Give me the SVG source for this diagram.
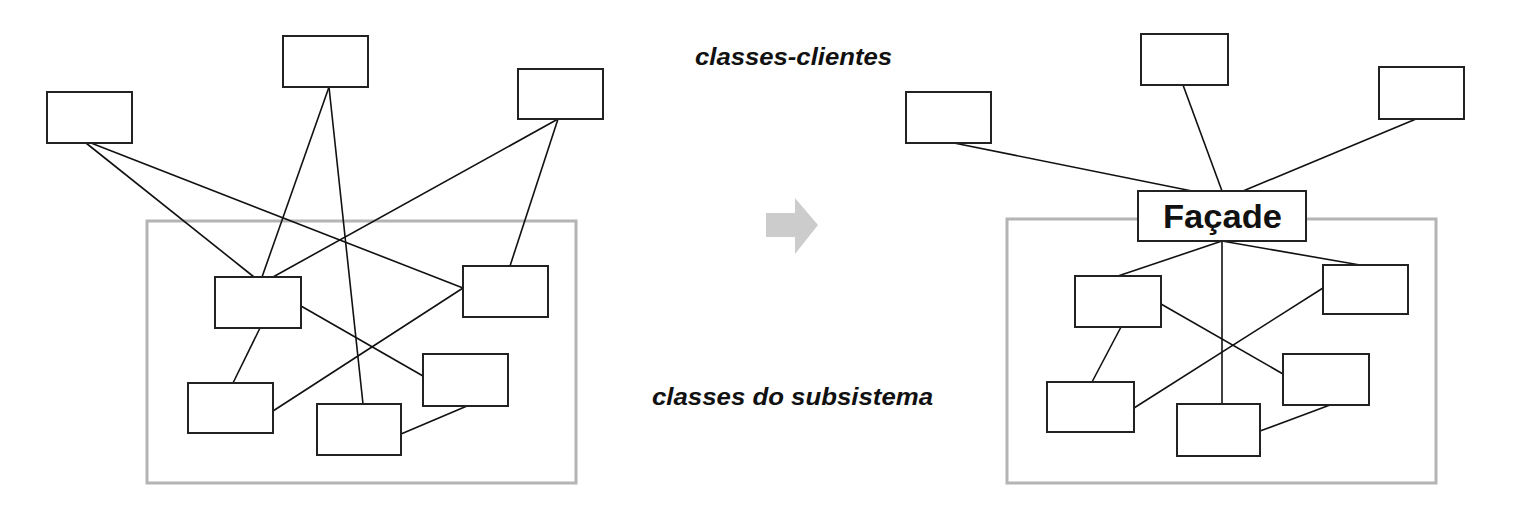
<svg xmlns="http://www.w3.org/2000/svg" width="1538" height="522" viewBox="0 0 1538 522">
<style>
.box{fill:#fff;stroke:#222;stroke-width:2}
.cont{fill:none;stroke:#b4b4b4;stroke-width:3}
.ln{stroke:#111;stroke-width:1.6;fill:none}
.lbl{font-family:"Liberation Sans",Arial,sans-serif;font-weight:bold;font-style:italic;font-size:24px;fill:#111}
.fac{font-family:"Liberation Sans",Arial,sans-serif;font-weight:bold;font-size:33px;fill:#111}
</style>
<rect width="1538" height="522" fill="#fff"/>
<g id="left-container"><rect class="cont" x="147" y="221" width="429" height="262"/></g>
<g id="right-container"><rect class="cont" x="1007" y="219" width="429" height="264"/></g>
<g id="connectors">
<line class="ln" x1="86" y1="143" x2="254" y2="277"/>
<line class="ln" x1="91" y1="143" x2="463" y2="288"/>
<line class="ln" x1="329" y1="87" x2="262" y2="277"/>
<line class="ln" x1="329" y1="87" x2="363" y2="404"/>
<line class="ln" x1="558" y1="119" x2="273" y2="277"/>
<line class="ln" x1="558" y1="119" x2="510" y2="266"/>
<line class="ln" x1="260" y1="328" x2="233" y2="383"/>
<line class="ln" x1="273" y1="411" x2="463" y2="288"/>
<line class="ln" x1="301" y1="306" x2="423" y2="376"/>
<line class="ln" x1="401" y1="434" x2="467" y2="406"/>
<line class="ln" x1="954" y1="143" x2="1192" y2="191"/>
<line class="ln" x1="1183" y1="85" x2="1222" y2="191"/>
<line class="ln" x1="1416" y1="119" x2="1243" y2="191"/>
<line class="ln" x1="1222" y1="241" x2="1118" y2="276"/>
<line class="ln" x1="1222" y1="241" x2="1222" y2="404"/>
<line class="ln" x1="1222" y1="241" x2="1360" y2="265"/>
<line class="ln" x1="1121" y1="327" x2="1092" y2="382"/>
<line class="ln" x1="1134" y1="408" x2="1323" y2="288"/>
<line class="ln" x1="1161" y1="304" x2="1283" y2="374"/>
<line class="ln" x1="1260" y1="431" x2="1330" y2="405"/>
</g>
<g id="l-client-1"><rect class="box" x="47" y="92" width="85" height="51"/></g>
<g id="l-client-2"><rect class="box" x="283" y="36" width="85" height="51"/></g>
<g id="l-client-3"><rect class="box" x="518" y="69" width="85" height="50"/></g>
<g id="l-sub-1"><rect class="box" x="215" y="277" width="86" height="51"/></g>
<g id="l-sub-2"><rect class="box" x="463" y="266" width="85" height="51"/></g>
<g id="l-sub-3"><rect class="box" x="188" y="383" width="85" height="50"/></g>
<g id="l-sub-4"><rect class="box" x="317" y="404" width="84" height="51"/></g>
<g id="l-sub-5"><rect class="box" x="423" y="354" width="85" height="52"/></g>
<g id="r-client-1"><rect class="box" x="906" y="92" width="85" height="51"/></g>
<g id="r-client-2"><rect class="box" x="1141" y="34" width="87" height="51"/></g>
<g id="r-client-3"><rect class="box" x="1379" y="67" width="85" height="52"/></g>
<g id="facade"><rect class="box" x="1138" y="191" width="168" height="50"/><text class="fac" x="1222.5" y="228" text-anchor="middle" textLength="119" lengthAdjust="spacingAndGlyphs">Façade</text></g>
<g id="r-sub-1"><rect class="box" x="1075" y="276" width="86" height="51"/></g>
<g id="r-sub-2"><rect class="box" x="1323" y="265" width="85" height="49"/></g>
<g id="r-sub-3"><rect class="box" x="1047" y="382" width="87" height="50"/></g>
<g id="r-sub-4"><rect class="box" x="1177" y="404" width="83" height="52"/></g>
<g id="r-sub-5"><rect class="box" x="1283" y="354" width="86" height="51"/></g>
<g id="arrow"><polygon points="766,213 795,213 795,198 818,225 795,254 795,237 766,237" fill="#cccccc"/></g>
<text class="lbl" x="695" y="65" textLength="197" lengthAdjust="spacingAndGlyphs">classes-clientes</text>
<text class="lbl" x="652" y="405" textLength="281" lengthAdjust="spacingAndGlyphs">classes do subsistema</text>
</svg>
